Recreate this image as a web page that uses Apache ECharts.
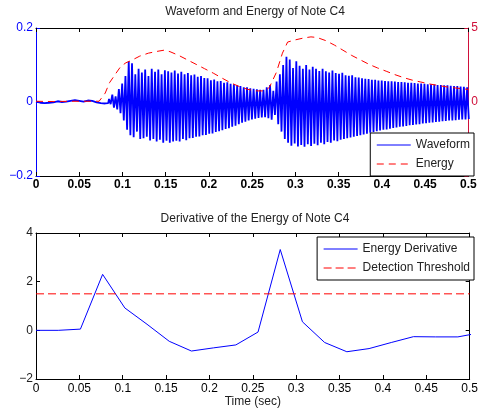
<!DOCTYPE html>
<html>
<head>
<meta charset="utf-8">
<script src="https://cdn.jsdelivr.net/npm/echarts@6/dist/echarts.min.js"></script>
<style>
html,body{margin:0;padding:0;background:#fff;}
#chart{width:481px;height:409px;}
</style>
</head>
<body>
<div id="chart"></div>
<script>
// ---------- data ----------
var xTicks = [0, 0.05, 0.1, 0.15, 0.2, 0.25, 0.3, 0.35, 0.4, 0.45, 0.5];

// low-level signal before the onset (time, amplitude)
var waveNoiseT = [0, 0.005, 0.01, 0.015, 0.02, 0.025, 0.03, 0.035, 0.04, 0.045, 0.05, 0.055, 0.06, 0.065, 0.07, 0.075, 0.08, 0.0835];
var waveNoiseV = [0.001, -0.002, -0.003, -0.002, -0.001, 0.002, 0.0, 0.001, 0.003, 0.005, 0.003, 0.001, 0.004, 0.003, -0.001, -0.003, -0.004, -0.003];

// per-cycle peaks and troughs of the waveform after onset
var waveStart = 0.0835;
var wavePeriod = 0.0038;
var wavePeaks = [
  0.008, 0.02, 0.015, 0.035, 0.05, 0.07, 0.11, 0.105, 0.075, 0.09,
  0.08, 0.088, 0.07, 0.09, 0.082, 0.088, 0.075, 0.086, 0.083, 0.08,
  0.085, 0.077, 0.082, 0.075, 0.078, 0.072, 0.074, 0.068, 0.07, 0.065,
  0.064, 0.059, 0.061, 0.056, 0.057, 0.052, 0.053, 0.049, 0.048, 0.045,
  0.043, 0.04, 0.04, 0.037, 0.036, 0.034, 0.033, 0.033, 0.04, 0.046,
  0.03, 0.055, 0.075, 0.1, 0.122, 0.115, 0.092, 0.11, 0.098, 0.09,
  0.1, 0.088, 0.095, 0.09, 0.084, 0.09, 0.083, 0.08, 0.085, 0.078,
  0.076, 0.079, 0.072, 0.071, 0.072, 0.067, 0.066, 0.064, 0.063, 0.062,
  0.06, 0.06, 0.058, 0.058, 0.057, 0.056, 0.056, 0.055, 0.054, 0.054,
  0.053, 0.052, 0.052, 0.051, 0.05, 0.05, 0.049, 0.048, 0.048, 0.047,
  0.046, 0.046, 0.045, 0.045, 0.044, 0.043, 0.043, 0.042, 0.041, 0.04
];
var waveTroughs = [
  -0.006, -0.015, -0.02, -0.03, -0.05, -0.075, -0.09, -0.095, -0.08, -0.1,
  -0.098, -0.094, -0.104, -0.1, -0.107, -0.102, -0.11, -0.105, -0.11, -0.107,
  -0.105, -0.107, -0.1, -0.103, -0.098, -0.097, -0.094, -0.093, -0.09, -0.089,
  -0.086, -0.085, -0.081, -0.079, -0.076, -0.073, -0.071, -0.067, -0.064, -0.06,
  -0.056, -0.053, -0.05, -0.047, -0.045, -0.043, -0.042, -0.041, -0.044, -0.048,
  -0.035, -0.06, -0.08, -0.1, -0.11, -0.118, -0.112, -0.12, -0.116, -0.121,
  -0.114, -0.119, -0.113, -0.117, -0.11, -0.114, -0.108, -0.11, -0.104, -0.106,
  -0.102, -0.1, -0.098, -0.096, -0.094, -0.092, -0.09, -0.088, -0.086, -0.083,
  -0.081, -0.079, -0.077, -0.075, -0.074, -0.072, -0.07, -0.069, -0.067, -0.066,
  -0.065, -0.063, -0.062, -0.061, -0.06, -0.058, -0.057, -0.056, -0.055, -0.054,
  -0.053, -0.052, -0.051, -0.05, -0.05, -0.049, -0.048, -0.047, -0.047, -0.046
];

// energy (right axis)
var energyT = [0, 0.02, 0.04, 0.06, 0.073, 0.08, 0.085, 0.092, 0.098, 0.104, 0.11, 0.12, 0.13, 0.14, 0.148, 0.155, 0.165, 0.175, 0.185, 0.195, 0.205, 0.215, 0.225, 0.235, 0.245, 0.255, 0.265, 0.27, 0.278, 0.285, 0.291, 0.3, 0.31, 0.318, 0.325, 0.335, 0.345, 0.355, 0.365, 0.375, 0.385, 0.395, 0.405, 0.415, 0.425, 0.435, 0.445, 0.455, 0.465, 0.475, 0.485, 0.5];
var energyV = [0.05, 0.03, 0.05, 0.05, 0.05, 0.6, 1.3, 1.9, 2.4, 2.65, 2.8, 3.1, 3.3, 3.42, 3.5, 3.4, 3.15, 2.85, 2.55, 2.25, 1.95, 1.62, 1.3, 1.05, 0.85, 0.75, 0.75, 1.0, 2.0, 3.3, 4.05, 4.2, 4.33, 4.4, 4.36, 4.15, 3.85, 3.5, 3.15, 2.85, 2.55, 2.3, 2.08, 1.85, 1.65, 1.48, 1.35, 1.22, 1.12, 1.02, 0.95, 0.85];

// energy derivative
var derivT = [0, 0.0256, 0.0512, 0.0768, 0.1024, 0.128, 0.1536, 0.1792, 0.2048, 0.2304, 0.256, 0.2816, 0.3072, 0.3328, 0.3584, 0.384, 0.4096, 0.4352, 0.4608, 0.4864, 0.512];
var derivV = [0, 0.0, 0.05, 2.3, 0.92, 0.25, -0.45, -0.85, -0.72, -0.6, -0.07, 3.32, 0.35, -0.5, -0.88, -0.75, -0.5, -0.26, -0.27, -0.27, -0.1];
var threshold = 1.5;

// ---------- build ----------
var waveData = [];
for (var i = 0; i < waveNoiseT.length; i++) waveData.push([waveNoiseT[i], waveNoiseV[i]]);
for (var j = 0; j < wavePeaks.length; j++) {
  var t = waveStart + j * wavePeriod;
  waveData.push([t + wavePeriod * 0.25, wavePeaks[j]]);
  waveData.push([t + wavePeriod * 0.75, waveTroughs[j]]);
}
var energyData = energyT.map(function (t, k) { return [t, energyV[k]]; });
var derivData = derivT.map(function (t, k) { return [t, derivV[k]]; });
var threshData = [[xTicks[0], threshold], [xTicks[xTicks.length - 1], threshold]];

var FONT = 'Liberation Sans, Arial, Helvetica, sans-serif';
var TXT = '#222';
function fmt(v) {
  var s = String(parseFloat(Number(v).toFixed(3)));
  return s.replace('-', '\u2212');
}
function xAxisDef(grid, pos, labels, bold, name) {
  var a = {
    type: 'value', gridIndex: grid, position: pos,
    min: 0, max: 0.5, interval: 0.05,
    axisLine: { show: true, onZero: false, lineStyle: { color: '#000', width: 1 } },
    axisTick: { show: true, inside: true, length: 4, lineStyle: { color: '#000' } },
    axisLabel: { show: labels, margin: grid === 0 ? 3 : 4, color: '#000', fontSize: 12, fontFamily: FONT,
                 fontWeight: bold ? 'bold' : 'normal', formatter: fmt },
    splitLine: { show: false }
  };
  if (name) {
    a.name = name; a.nameLocation = 'middle'; a.nameGap = 17;
    a.nameTextStyle = { color: TXT, fontSize: 12, fontFamily: FONT };
  }
  return a;
}
function yAxisDef(grid, pos, min, max, interval, color, labels, formatter) {
  return {
    type: 'value', gridIndex: grid, position: pos,
    min: min, max: max, interval: interval,
    axisLine: { show: true, onZero: false, lineStyle: { color: color, width: 1 } },
    axisTick: { show: true, inside: true, length: 4, lineStyle: { color: color } },
    axisLabel: { show: labels, margin: 3, color: color === '#000' ? TXT : color, fontSize: 12, fontFamily: FONT,
                 formatter: formatter || fmt },
    splitLine: { show: false }
  };
}
function legendDef(names, top) {
  return {
    data: names, orient: 'vertical', right: 7, top: top,
    padding: [6, 4, 6, 6], itemWidth: 34, itemHeight: 12, itemGap: 7,
    borderColor: '#000', borderWidth: 1, backgroundColor: '#fff', selectedMode: false,
    itemStyle: { opacity: 0, color: 'rgba(0,0,0,0)', borderWidth: 0 },
    lineStyle: { width: 1 },
    textStyle: { fontSize: 12, color: TXT, fontFamily: FONT }
  };
}

var chart = echarts.init(document.getElementById('chart'), null, { renderer: 'canvas' });
chart.setOption({
  animation: false,
  backgroundColor: '#fff',
  title: [
    { text: 'Waveform and Energy of Note C4', left: 255, top: 6, textAlign: 'center', padding: 0,
      textStyle: { fontSize: 12, fontWeight: 'normal', color: TXT, fontFamily: FONT } },
    { text: 'Derivative of the Energy of Note C4', left: 255, top: 213, textAlign: 'center', padding: 0,
      textStyle: { fontSize: 12, fontWeight: 'normal', color: TXT, fontFamily: FONT } }
  ],
  grid: [
    { left: 36, right: 7, top: 28, height: 148 },
    { left: 36, right: 7, top: 233, height: 148 }
  ],
  xAxis: [
    xAxisDef(0, 'bottom', true, true),
    xAxisDef(0, 'top', false, false),
    xAxisDef(1, 'bottom', true, false, 'Time (sec)'),
    xAxisDef(1, 'top', false, false)
  ],
  yAxis: [
    yAxisDef(0, 'left', -0.2, 0.2, 0.2, '#0000ff', true),
    yAxisDef(0, 'right', -5, 5, 5, '#d0103a', true, function (v) { return v < 0 ? '' : fmt(v); }),
    yAxisDef(1, 'left', -2, 4, 2, '#000', true),
    yAxisDef(1, 'right', -2, 4, 2, '#000', false)
  ],
  legend: [
    legendDef(['Waveform', 'Energy'], 133),
    legendDef(['Energy Derivative', 'Detection Threshold'], 237)
  ],
  series: [
    { name: 'Waveform', type: 'line', xAxisIndex: 0, yAxisIndex: 0, data: waveData,
      symbol: 'none', showSymbol: false, sampling: null, clip: true,
      lineStyle: { color: '#0000ff', width: 1.8 }, itemStyle: { color: '#0000ff' } },
    { name: 'Energy', type: 'line', xAxisIndex: 0, yAxisIndex: 1, data: energyData,
      symbol: 'none', showSymbol: false, clip: true,
      lineStyle: { color: '#ff0000', width: 1, type: [7, 5] }, itemStyle: { color: '#ff0000' } },
    { name: 'Energy Derivative', type: 'line', xAxisIndex: 2, yAxisIndex: 2, data: derivData,
      symbol: 'none', showSymbol: false, clip: true,
      lineStyle: { color: '#0000ff', width: 1 }, itemStyle: { color: '#0000ff' } },
    { name: 'Detection Threshold', type: 'line', xAxisIndex: 2, yAxisIndex: 2, data: threshData,
      symbol: 'none', showSymbol: false, clip: true,
      lineStyle: { color: '#ff0000', width: 1, type: [8, 4] }, itemStyle: { color: '#ff0000' } }
  ]
});
</script>
</body>
</html>
